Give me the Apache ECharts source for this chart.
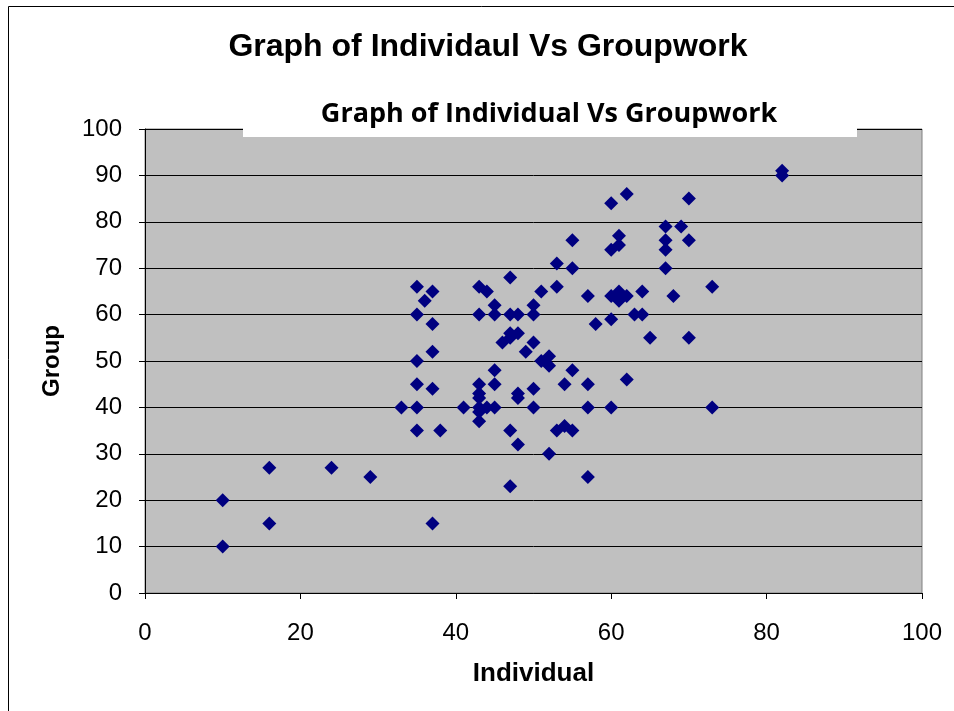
<!DOCTYPE html>
<html>
<head>
<meta charset="utf-8">
<script src="https://cdn.jsdelivr.net/npm/echarts@6/dist/echarts.min.js"></script>
<style>html,body{margin:0;padding:0;background:#fff}#c{width:954px;height:711px}</style>
</head>
<body>
<div id="c"></div>
<script>
const individual = [10,10,16,16,24,29,33,35,35,35,35,35,35,36,37,37,37,37,37,38,41,43,44,43,43,43,43,43,43,43,44,45,45,45,45,45,46,47,47,47,47,47,47,48,48,48,48,48,49,50,50,50,50,50,51,51,52,52,52,53,53,53,54,54,55,55,55,55,57,57,57,57,58,60,60,60,60,60,61,61,61,61,61,62,62,62,63,64,64,65,67,67,67,67,68,69,70,70,70,73,73,82,82];
const group      = [20,10,27,15,27,25,40,66,60,50,45,40,35,63,65,58,52,44,15,35,40,66,65,60,45,43,42,40,39,37,40,62,60,48,45,40,54,68,60,56,55,35,23,60,56,43,42,32,52,62,60,54,44,40,65,50,51,49,30,71,66,35,45,36,76,70,48,35,64,45,40,25,58,84,74,64,59,40,77,75,65,64,63,86,64,46,60,65,60,55,79,76,74,70,64,79,85,76,55,66,40,91,90];
const xTicks = [0,20,40,60,80,100];
const yTicks = [0,10,20,30,40,50,60,70,80,90,100];
const chartTitle = 'Graph of Individaul Vs Groupwork';
const innerTitle = 'Graph of Individual Vs Groupwork';
const xName = 'Individual';
const yName = 'Group';

const points = individual.map((v, i) => [v, group[i]]);
const chart = echarts.init(document.getElementById('c'), null, {renderer: 'canvas'});
chart.setOption({
  animation: false,
  grid: {left: 145, top: 129, width: 777, height: 464, show: true, backgroundColor: '#C0C0C0', borderColor: '#808080', borderWidth: 1},
  xAxis: {
    type: 'value', min: xTicks[0], max: xTicks[xTicks.length - 1], interval: xTicks[1] - xTicks[0],
    axisLine: {show: true, onZero: false, lineStyle: {color: '#000', width: 1}},
    axisTick: {show: true, length: 6, lineStyle: {color: '#000'}},
    splitLine: {show: false},
    axisLabel: {color: '#000', fontFamily: 'Liberation Sans, Arial', fontSize: 24, margin: 28},
    name: xName, nameLocation: 'middle', nameGap: 68,
    nameTextStyle: {color: '#000', fontFamily: 'Liberation Sans, Arial', fontWeight: 'bold', fontSize: 26}
  },
  yAxis: {
    type: 'value', min: yTicks[0], max: yTicks[yTicks.length - 1], interval: yTicks[1] - yTicks[0],
    axisLine: {show: true, onZero: false, lineStyle: {color: '#000', width: 1}},
    axisTick: {show: true, length: 6, lineStyle: {color: '#000'}},
    splitLine: {show: true, lineStyle: {color: '#000', width: 1}},
    axisLabel: {color: '#000', fontFamily: 'Liberation Sans, Arial', fontSize: 24, margin: 23},
    name: yName, nameLocation: 'middle', nameGap: 81, nameRotate: 90,
    nameTextStyle: {color: '#000', fontFamily: 'Liberation Sans, Arial', fontWeight: 'bold', fontSize: 24}
  },
  series: [{
    type: 'scatter', data: points, symbol: 'diamond', symbolSize: 14,
    itemStyle: {color: '#000080', opacity: 1}
  }],
  graphic: [
    {type: 'line', shape: {x1: 8.5, y1: 6.5, x2: 8.5, y2: 720}, style: {stroke: '#000', lineWidth: 1}},
    {type: 'line', shape: {x1: 8.5, y1: 6.5, x2: 960, y2: 6.5}, style: {stroke: '#000', lineWidth: 1}},
    {type: 'rect', z: 100, shape: {x: 243, y: 124, width: 614, height: 13}, style: {fill: '#fff'}},
    {type: 'text', z: 101, x: 488, y: 47, style: {text: chartTitle, textAlign: 'center', textVerticalAlign: 'middle', fill: '#000', font: 'bold 32px "Liberation Sans", Arial'}},
    {type: 'text', z: 101, x: 549, y: 114, style: {text: innerTitle, textAlign: 'center', textVerticalAlign: 'middle', fill: '#000', font: 'bold 27px "Open Sans", "Noto Sans"'}}
  ]
});
</script>
</body>
</html>
